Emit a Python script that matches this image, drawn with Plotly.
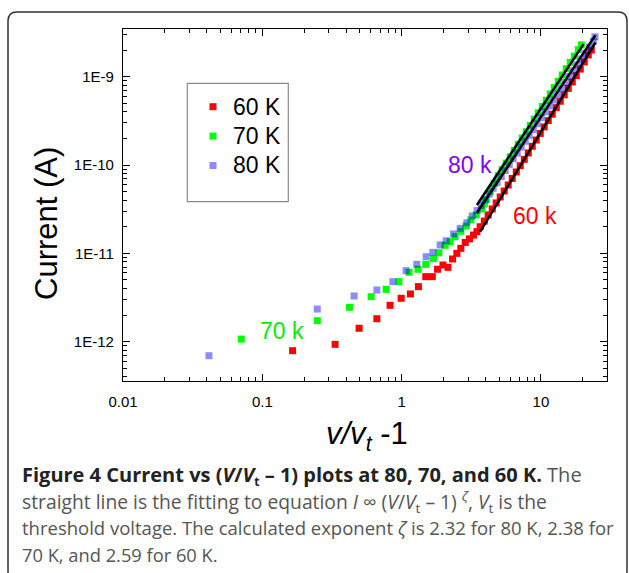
import plotly.graph_objects as go

# ---------------- data ----------------
series_names = ["60 K", "70 K", "80 K"]

x60 = [0.165, 0.333, 0.495, 0.664, 0.826, 0.992, 1.156, 1.32, 1.49, 1.66,
       1.81, 1.98, 2.15, 2.32, 2.49, 2.66, 2.86, 3.07, 3.28, 3.47,
       3.66, 3.92, 4.18, 4.47, 4.77, 5.10, 5.45, 5.82, 6.22, 6.65,
       7.10, 7.59, 8.11, 8.66, 9.25, 9.89, 10.56, 11.28, 12.05, 12.88,
       13.76, 14.70, 15.71, 16.78, 17.93, 19.16, 20.47, 21.87, 22.98]
y60 = [7.91e-13, 9.33e-13, 1.42e-12, 1.82e-12, 2.58e-12, 3.10e-12, 3.47e-12, 4.20e-12, 5.45e-12, 5.45e-12,
       6.61e-12, 7.38e-12, 6.95e-12, 8.63e-12, 1.00e-11, 1.14e-11, 1.33e-11, 1.46e-11, 1.61e-11, 1.76e-11,
       2.00e-11, 2.32e-11, 2.72e-11, 3.18e-11, 3.72e-11, 4.35e-11, 5.08e-11, 5.94e-11, 7.04e-11, 8.34e-11,
       9.82e-11, 1.16e-10, 1.37e-10, 1.63e-10, 1.92e-10, 2.28e-10, 2.70e-10, 3.18e-10, 3.76e-10, 4.46e-10,
       5.27e-10, 6.24e-10, 7.37e-10, 8.71e-10, 1.03e-9, 1.22e-9, 1.47e-9, 1.76e-9, 2.00e-9]

x70 = [0.0706, 0.248, 0.422, 0.604, 0.774, 0.955, 1.13, 1.31, 1.49, 1.69,
       1.85, 2.05, 2.23, 2.42, 2.66, 2.90, 3.14, 3.43, 3.77, 3.92,
       4.05, 4.32, 4.62, 4.93, 5.27, 5.63, 6.02, 6.43, 6.87, 7.34,
       7.84, 8.38, 8.95, 9.56, 10.22, 10.92, 11.66, 12.46, 13.31, 14.22,
       15.19, 16.23, 17.34, 18.53, 19.48]
y70 = [1.07e-12, 1.73e-12, 2.45e-12, 3.23e-12, 3.92e-12, 4.78e-12, 6.11e-12, 6.61e-12, 7.52e-12, 8.71e-12,
       1.016e-11, 1.234e-11, 1.355e-11, 1.545e-11, 1.78e-11, 2.04e-11, 2.39e-11, 2.72e-11, 3.18e-11, 3.62e-11,
       4.07e-11, 5.01e-11, 6.18e-11, 7.52e-11, 8.89e-11, 1.05e-10, 1.236e-10, 1.456e-10, 1.717e-10, 2.02e-10,
       2.38e-10, 2.81e-10, 3.31e-10, 3.90e-10, 4.60e-10, 5.42e-10, 6.38e-10, 7.53e-10, 8.87e-10, 1.045e-9,
       1.233e-9, 1.452e-9, 1.71e-9, 2.02e-9, 2.29e-9]

x80 = [0.0414, 0.248, 0.456, 0.664, 0.865, 1.077, 1.285, 1.50, 1.675, 1.89,
       2.09, 2.36, 2.63, 2.94, 3.21, 3.48, 3.72, 3.98, 4.25, 4.54,
       4.85, 5.19, 5.54, 5.92, 6.32, 6.76, 7.22, 7.71, 8.24, 8.81,
       9.41, 10.05, 10.74, 11.47, 12.26, 13.10, 14.0, 14.95, 15.97, 17.06,
       18.23, 19.48, 20.81, 22.23, 23.76, 24.4]
y80 = [6.94e-13, 2.34e-12, 3.29e-12, 3.85e-12, 4.78e-12, 6.37e-12, 7.52e-12, 9.16e-12, 1.028e-11, 1.245e-11,
       1.39e-11, 1.66e-11, 1.92e-11, 2.22e-11, 2.65e-11, 3.05e-11, 3.48e-11, 4.02e-11, 4.69e-11, 5.46e-11,
       6.37e-11, 7.41e-11, 8.65e-11, 1.007e-10, 1.175e-10, 1.368e-10, 1.596e-10, 1.86e-10, 2.17e-10, 2.53e-10,
       2.94e-10, 3.44e-10, 4.00e-10, 4.67e-10, 5.44e-10, 6.34e-10, 7.39e-10, 8.61e-10, 1.004e-9, 1.17e-9,
       1.365e-9, 1.59e-9, 1.85e-9, 2.16e-9, 2.52e-9, 2.83e-9]

# power-law fit segments (end points)
fit_x80 = [3.47, 24.6]
fit_y80 = [2.88e-11, 2.96e-9]
fit_x70 = [3.47, 20.2]
fit_y70 = [3.53e-11, 2.34e-9]
fit_x60 = [3.66, 24.6]
fit_y60 = [1.76e-11, 2.44e-9]

x_tickvals = [0.01, 0.1, 1, 10]
x_ticktext = ["0.01", "0.1", "1", "10"]
y_tickvals = [1e-12, 1e-11, 1e-10, 1e-9]
y_ticktext = ["1E-12", "1E-11", "1E-10", "1E-9"]

# minor tick positions (2..9 in each decade)
x_minor = [m * d for d in (0.01, 0.1, 1, 10) for m in range(2, 10)]
y_minor = [m * d for d in (1e-13, 1e-12, 1e-11, 1e-10, 1e-9) for m in range(2, 10)]

# ---------------- layout helpers (pixel -> paper) ----------------
W, H = 629, 573
ML, MR, MT, MB = 123, 22, 29, 192
PW, PH = W - ML - MR, H - MT - MB


def px_x(px):
    return (px - ML) / PW


def px_y(py):
    return (H - MB - py) / PH


SANS = "Liberation Sans, Arial, sans-serif"
CAP = "Open Sans, Noto Sans, sans-serif"

fig = go.Figure()

fig.add_trace(go.Scatter(x=x60, y=y60, mode="markers",
                         name=f"<span style='font-size:23px'>{series_names[0]}</span>",
                         marker=dict(symbol="square", size=7, color="rgb(255,0,0)", line=dict(width=0))))
fig.add_trace(go.Scatter(x=x70, y=y70, mode="markers",
                         name=f"<span style='font-size:23px'>{series_names[1]}</span>",
                         marker=dict(symbol="square", size=7, color="rgb(0,255,0)", line=dict(width=0))))
fig.add_trace(go.Scatter(x=x80, y=y80, mode="markers",
                         name=f"<span style='font-size:23px'>{series_names[2]}</span>",
                         marker=dict(symbol="square", size=7, color="rgb(0,0,255)", opacity=0.45,
                                     line=dict(width=0))))
for fx, fy in [(fit_x80, fit_y80), (fit_x70, fit_y70), (fit_x60, fit_y60)]:
    fig.add_trace(go.Scatter(x=fx, y=fy, mode="lines", showlegend=False,
                             line=dict(color="black", width=2.5)))

axis_common = dict(
    type="log", showgrid=False, zeroline=False, showline=True, linecolor="black", linewidth=1.3,
    mirror="ticks", ticks="inside", ticklen=7, tickwidth=1.2, tickcolor="black",
    tickmode="array", tickfont=dict(family=SANS, size=15, color="black"),
)

fig.update_xaxes(range=[-2, 1.474], tickvals=x_tickvals, ticktext=x_ticktext,
                 ticklabelstandoff=7,
                 minor=dict(tickmode="array", tickvals=x_minor, ticks="inside", ticklen=4,
                            tickwidth=1, tickcolor="black", showgrid=False),
                 **axis_common)
fig.update_yaxes(range=[-12.445, -8.460], tickvals=y_tickvals, ticktext=y_ticktext,
                 ticklabelstandoff=5,
                 minor=dict(tickmode="array", tickvals=y_minor, ticks="inside", ticklen=4,
                            tickwidth=1, tickcolor="black", showgrid=False),
                 **axis_common)

# figure frame with rounded corners (pixel based)
x0, x1, y0, y1, r = 8, 627, 12, 580, 9


def P(px, py):
    return f"{px_x(px):.5f},{px_y(py):.5f}"


frame_path = (f"M {P(x0, y0 + r)} Q {P(x0, y0)} {P(x0 + r, y0)} L {P(x1 - r, y0)} "
              f"Q {P(x1, y0)} {P(x1, y0 + r)} L {P(x1, y1 - r)} Q {P(x1, y1)} {P(x1 - r, y1)} "
              f"L {P(x0 + r, y1)} Q {P(x0, y1)} {P(x0, y1 - r)} Z")

shapes = [
    dict(type="path", xref="paper", yref="paper", path=frame_path,
         line=dict(color="#333333", width=1.5), fillcolor="rgba(0,0,0,0)", layer="below"),
    dict(type="rect", xref="paper", yref="paper",
         x0=px_x(187.3), x1=px_x(288.3), y0=px_y(201.7), y1=px_y(83.3),
         line=dict(color="#8a8a8a", width=1.2), fillcolor="rgba(0,0,0,0)"),
]

annotations = [
    dict(text="Current (A)", x=px_x(46), y=px_y(224), xref="paper", yref="paper", textangle=-90,
         showarrow=False, font=dict(family=SANS, size=31, color="black"), xanchor="center", yanchor="middle"),
    dict(text="<i>v/v<sub>t</sub></i> -1", x=px_x(367), y=px_y(436), xref="paper", yref="paper",
         showarrow=False, font=dict(family=SANS, size=31, color="black"), xanchor="center", yanchor="middle"),
    dict(text="80 k", x=px_x(469.5), y=px_y(165), xref="paper", yref="paper", showarrow=False,
         font=dict(family=SANS, size=23, color="#8000ff"), xanchor="center", yanchor="middle"),
    dict(text="60 k", x=px_x(535), y=px_y(215.5), xref="paper", yref="paper", showarrow=False,
         font=dict(family=SANS, size=23, color="#ff0000"), xanchor="center", yanchor="middle"),
    dict(text="70 k", x=px_x(281.5), y=px_y(331), xref="paper", yref="paper", showarrow=False,
         font=dict(family=SANS, size=23, color="#00ee00"), xanchor="center", yanchor="middle"),
]

GR = "#555555"
caption_lines = [
    "<span style='font-size:20px'><b>Figure 4 Current vs (<i>V</i>/<i>V</i><sub><span style='font-size:12px'>t"
    "</span></sub> – 1) plots at 80, 70, "
    f"and 60 K.</b><span style='color:{GR}'> The</span></span>",
    f"<span style='font-size:19.3px;color:{GR}'>straight line is the fitting to equation <i>I</i> ∞ "
    "(<i>V</i>/<i>V</i><sub>t</sub> – 1) <sup><i>ζ</i></sup>, <i>V</i><sub>t</sub> is the</span>",
    f"<span style='font-size:18.5px;color:{GR}'>threshold voltage. The calculated exponent <i>ζ</i> is "
    "2.32 for 80 K, 2.38 for</span>",
    f"<span style='font-size:18.3px;color:{GR}'>70 K, and 2.59 for 60 K.</span>",
]
annotations.append(dict(text="<br>".join(caption_lines), x=px_x(20), y=px_y(513.5),
                        xref="paper", yref="paper", showarrow=False, xanchor="left", yanchor="middle",
                        align="left", font=dict(family=CAP, size=20.5, color="#222222")))

fig.update_layout(
    width=W, height=H, margin=dict(l=ML, r=MR, t=MT, b=MB, pad=0),
    paper_bgcolor="white", plot_bgcolor="white",
    showlegend=True,
    legend=dict(x=px_x(193), y=px_y(87), xanchor="left", yanchor="top",
                bgcolor="rgba(0,0,0,0)", borderwidth=0,
                font=dict(family=SANS, size=20.3, color="black"), itemwidth=30, tracegroupgap=0),
    shapes=shapes, annotations=annotations,
)

fig.write_html("out.html", config={"displayModeBar": False},
               post_script="document.body.style.margin='0px';")
